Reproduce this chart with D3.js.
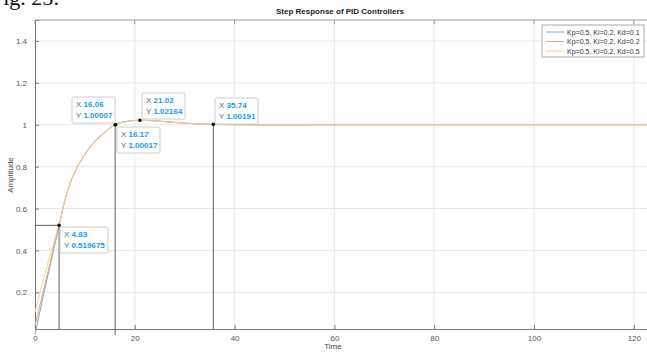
<!DOCTYPE html>
<html>
<head>
<meta charset="UTF-8">
<script src="https://cdn.jsdelivr.net/npm/d3@7"></script>
<style>
  body { margin: 0; background: #fff; }
  svg { display: block; font-family: "Liberation Sans", Arial, sans-serif; }
  .grid line { stroke: #e8e8e8; stroke-width: 1; }
  .tick text { fill: #555; font-size: 8px; }
  .line { fill: none; stroke-width: 1; }
</style>
</head>
<body>
<svg width="647" height="352"></svg>
<script>
// time samples and the three step responses
var times  = [0, 1, 2, 3, 4, 4.83, 6, 6.4, 8, 9.6, 11, 12.4, 14, 16, 18, 21, 24, 28, 32, 35.74, 40, 45, 50, 60, 70, 80, 90, 100, 110, 125];
var kd01   = [0, 0.11, 0.22, 0.325, 0.43, 0.519, 0.64, 0.675, 0.775, 0.845, 0.893, 0.93, 0.965, 1.0, 1.015, 1.0216, 1.019, 1.011, 1.005, 1.0019, 1.0, 0.9995, 0.9998, 1.0, 1.0, 1.0, 1.0, 1.0, 1.0, 1.0];
var kd02   = [0.04, 0.14, 0.24, 0.34, 0.44, 0.52, 0.641, 0.675, 0.775, 0.845, 0.892, 0.929, 0.964, 1.0, 1.014, 1.0212, 1.0185, 1.0108, 1.0048, 1.0018, 1.0, 0.9996, 0.9998, 1.0, 1.0, 1.0, 1.0, 1.0, 1.0, 1.0];
var kd05   = [0.105, 0.2, 0.29, 0.375, 0.46, 0.525, 0.643, 0.676, 0.774, 0.843, 0.89, 0.927, 0.963, 1.0, 1.013, 1.0205, 1.018, 1.0105, 1.0046, 1.0017, 1.0, 0.9996, 0.9998, 1.0, 1.0, 1.0, 1.0, 1.0, 1.0, 1.0];
var seriesNames  = ["Kp=0.5, Ki=0.2, Kd=0.1", "Kp=0.5, Ki=0.2, Kd=0.2", "Kp=0.5, Ki=0.2, Kd=0.5"];
var seriesColors = ["#7fa9cf", "#e3a58a", "#f2d58a"];
var xTicks = [0, 20, 40, 60, 80, 100, 120];
var yTicks = [0.2, 0.4, 0.6, 0.8, 1, 1.2, 1.4];
// data tips
var tipX = [4.83, 16.06, 16.17, 21.02, 35.74];
var tipY = [0.519675, 1.00007, 1.00017, 1.02164, 1.00191];
var tipLabelX = ["4.83", "16.06", "16.17", "21.02", "35.74"];
var tipLabelY = ["0.519675", "1.00007", "1.00017", "1.02164", "1.00191"];

var svg = d3.select('svg');
var plotLeft = 35, plotTop = 20, plotBottom = 329;

var x = d3.scaleLinear().domain([0, 125]).range([plotLeft, plotLeft + 125 * 4.99]);
var y = d3.scaleLinear().domain([0.025, 1.5]).range([plotBottom, plotTop]);

// caption fragment above the figure
svg.append('text')
   .attr('x', -9).attr('y', 5)
   .style('font-family', '"Liberation Serif", "Times New Roman", serif')
   .style('font-size', '22px')
   .attr('fill', '#111')
   .text('Fig. 25:');

// grid
var grid = svg.append('g').attr('class', 'grid');
grid.selectAll('.gx').data(xTicks.slice(1)).enter().append('line')
    .attr('x1', function(d) { return x(d); }).attr('x2', function(d) { return x(d); })
    .attr('y1', plotTop).attr('y2', plotBottom);
grid.selectAll('.gy').data(yTicks).enter().append('line')
    .attr('x1', plotLeft).attr('x2', 660)
    .attr('y1', function(d) { return y(d); }).attr('y2', function(d) { return y(d); });

// axes
svg.append('g')
   .attr('transform', 'translate(0,' + plotBottom + ')')
   .call(d3.axisBottom(x).tickValues(xTicks).tickSize(-4).tickPadding(6).tickFormat(d3.format('d')))
   .call(function(g) { g.select('.domain').attr('stroke', '#777'); g.selectAll('.tick line').attr('stroke', '#777'); });

svg.append('g')
   .attr('transform', 'translate(' + plotLeft + ',0)')
   .call(d3.axisLeft(y).tickValues(yTicks).tickSize(-4).tickPadding(8).tickFormat(function(d) { return d === 1 ? '1' : d3.format('.1f')(d); }))
   .call(function(g) { g.select('.domain').attr('stroke', '#777'); g.selectAll('.tick line').attr('stroke', '#777'); });

// top box edge with inward ticks
svg.append('line').attr('x1', plotLeft).attr('x2', 660).attr('y1', plotTop).attr('y2', plotTop).attr('stroke', '#999');
svg.selectAll('.ttick').data(xTicks).enter().append('line')
   .attr('x1', function(d) { return x(d); }).attr('x2', function(d) { return x(d); })
   .attr('y1', plotTop).attr('y2', plotTop + 4).attr('stroke', '#999');

// title and axis labels
svg.append('text').attr('x', 340).attr('y', 14).attr('text-anchor', 'middle')
   .style('font-size', '8px').style('font-weight', 'bold').attr('fill', '#222')
   .text('Step Response of PID Controllers');
svg.append('text').attr('x', 333).attr('y', 349).attr('text-anchor', 'middle')
   .style('font-size', '8px').attr('fill', '#444').text('Time');
svg.append('text').attr('transform', 'translate(13,175) rotate(-90)').attr('text-anchor', 'middle')
   .style('font-size', '8px').attr('fill', '#444').text('Amplitude');

// response curves
var line = d3.line()
    .curve(d3.curveMonotoneX)
    .x(function(d) { return x(d[0]); })
    .y(function(d) { return y(d[1]); });
[kd01, kd02, kd05].forEach(function(vals, i) {
    svg.append('path')
       .attr('class', 'line')
       .attr('d', line(times.map(function(t, j) { return [t, vals[j]]; })))
       .style('stroke', seriesColors[i]);
});

// data tip guide lines
var guide = svg.append('g').attr('stroke', '#333').attr('stroke-width', 0.8);
guide.append('line').attr('x1', plotLeft).attr('x2', x(tipX[0])).attr('y1', y(tipY[0])).attr('y2', y(tipY[0]));
[0, 1, 4].forEach(function(i) {
    guide.append('line')
         .attr('x1', x(tipX[i])).attr('x2', x(tipX[i]))
         .attr('y1', y(tipY[i])).attr('y2', i === 1 ? plotBottom + 6 : plotBottom);
});

svg.selectAll('.dot').data(tipX).enter().append('circle')
   .attr('cx', function(d) { return x(d); })
   .attr('cy', function(d, i) { return y(tipY[i]); })
   .attr('r', 1.8).attr('fill', '#111');

// data tip boxes
var boxes = [[60, 227], [72, 97], [117, 127], [142, 93], [215, 98]];
boxes.forEach(function(b, i) {
    var w = i === 0 ? 48 : 43;
    var g = svg.append('g').attr('transform', 'translate(' + b[0] + ',' + b[1] + ')');
    g.append('rect').attr('width', w).attr('height', 26).attr('rx', 1.5)
     .attr('fill', '#fff').attr('fill-opacity', 0.95).attr('stroke', '#c9ccd3');
    var t1 = g.append('text').attr('x', 4).attr('y', 10).style('font-size', '8px');
    t1.append('tspan').attr('fill', '#666').text('X ');
    t1.append('tspan').attr('fill', '#1a9be6').style('font-weight', 'bold').text(tipLabelX[i]);
    var t2 = g.append('text').attr('x', 4).attr('y', 21).style('font-size', '8px');
    t2.append('tspan').attr('fill', '#666').text('Y ');
    t2.append('tspan').attr('fill', '#1a9be6').style('font-weight', 'bold').text(tipLabelY[i]);
});

// legend
var legend = svg.append('g').attr('transform', 'translate(542,25)');
legend.append('rect').attr('width', 102).attr('height', 32).attr('fill', '#fff').attr('stroke', '#aaa');
seriesNames.forEach(function(name, i) {
    var yy = 7 + i * 9.5;
    legend.append('line').attr('x1', 4).attr('x2', 22).attr('y1', yy).attr('y2', yy)
          .attr('stroke', seriesColors[i]).attr('stroke-width', 1);
    legend.append('text').attr('x', 25).attr('y', yy + 2.5)
          .style('font-size', '7px').attr('fill', '#333').text(name);
});
</script>
</body>
</html>
